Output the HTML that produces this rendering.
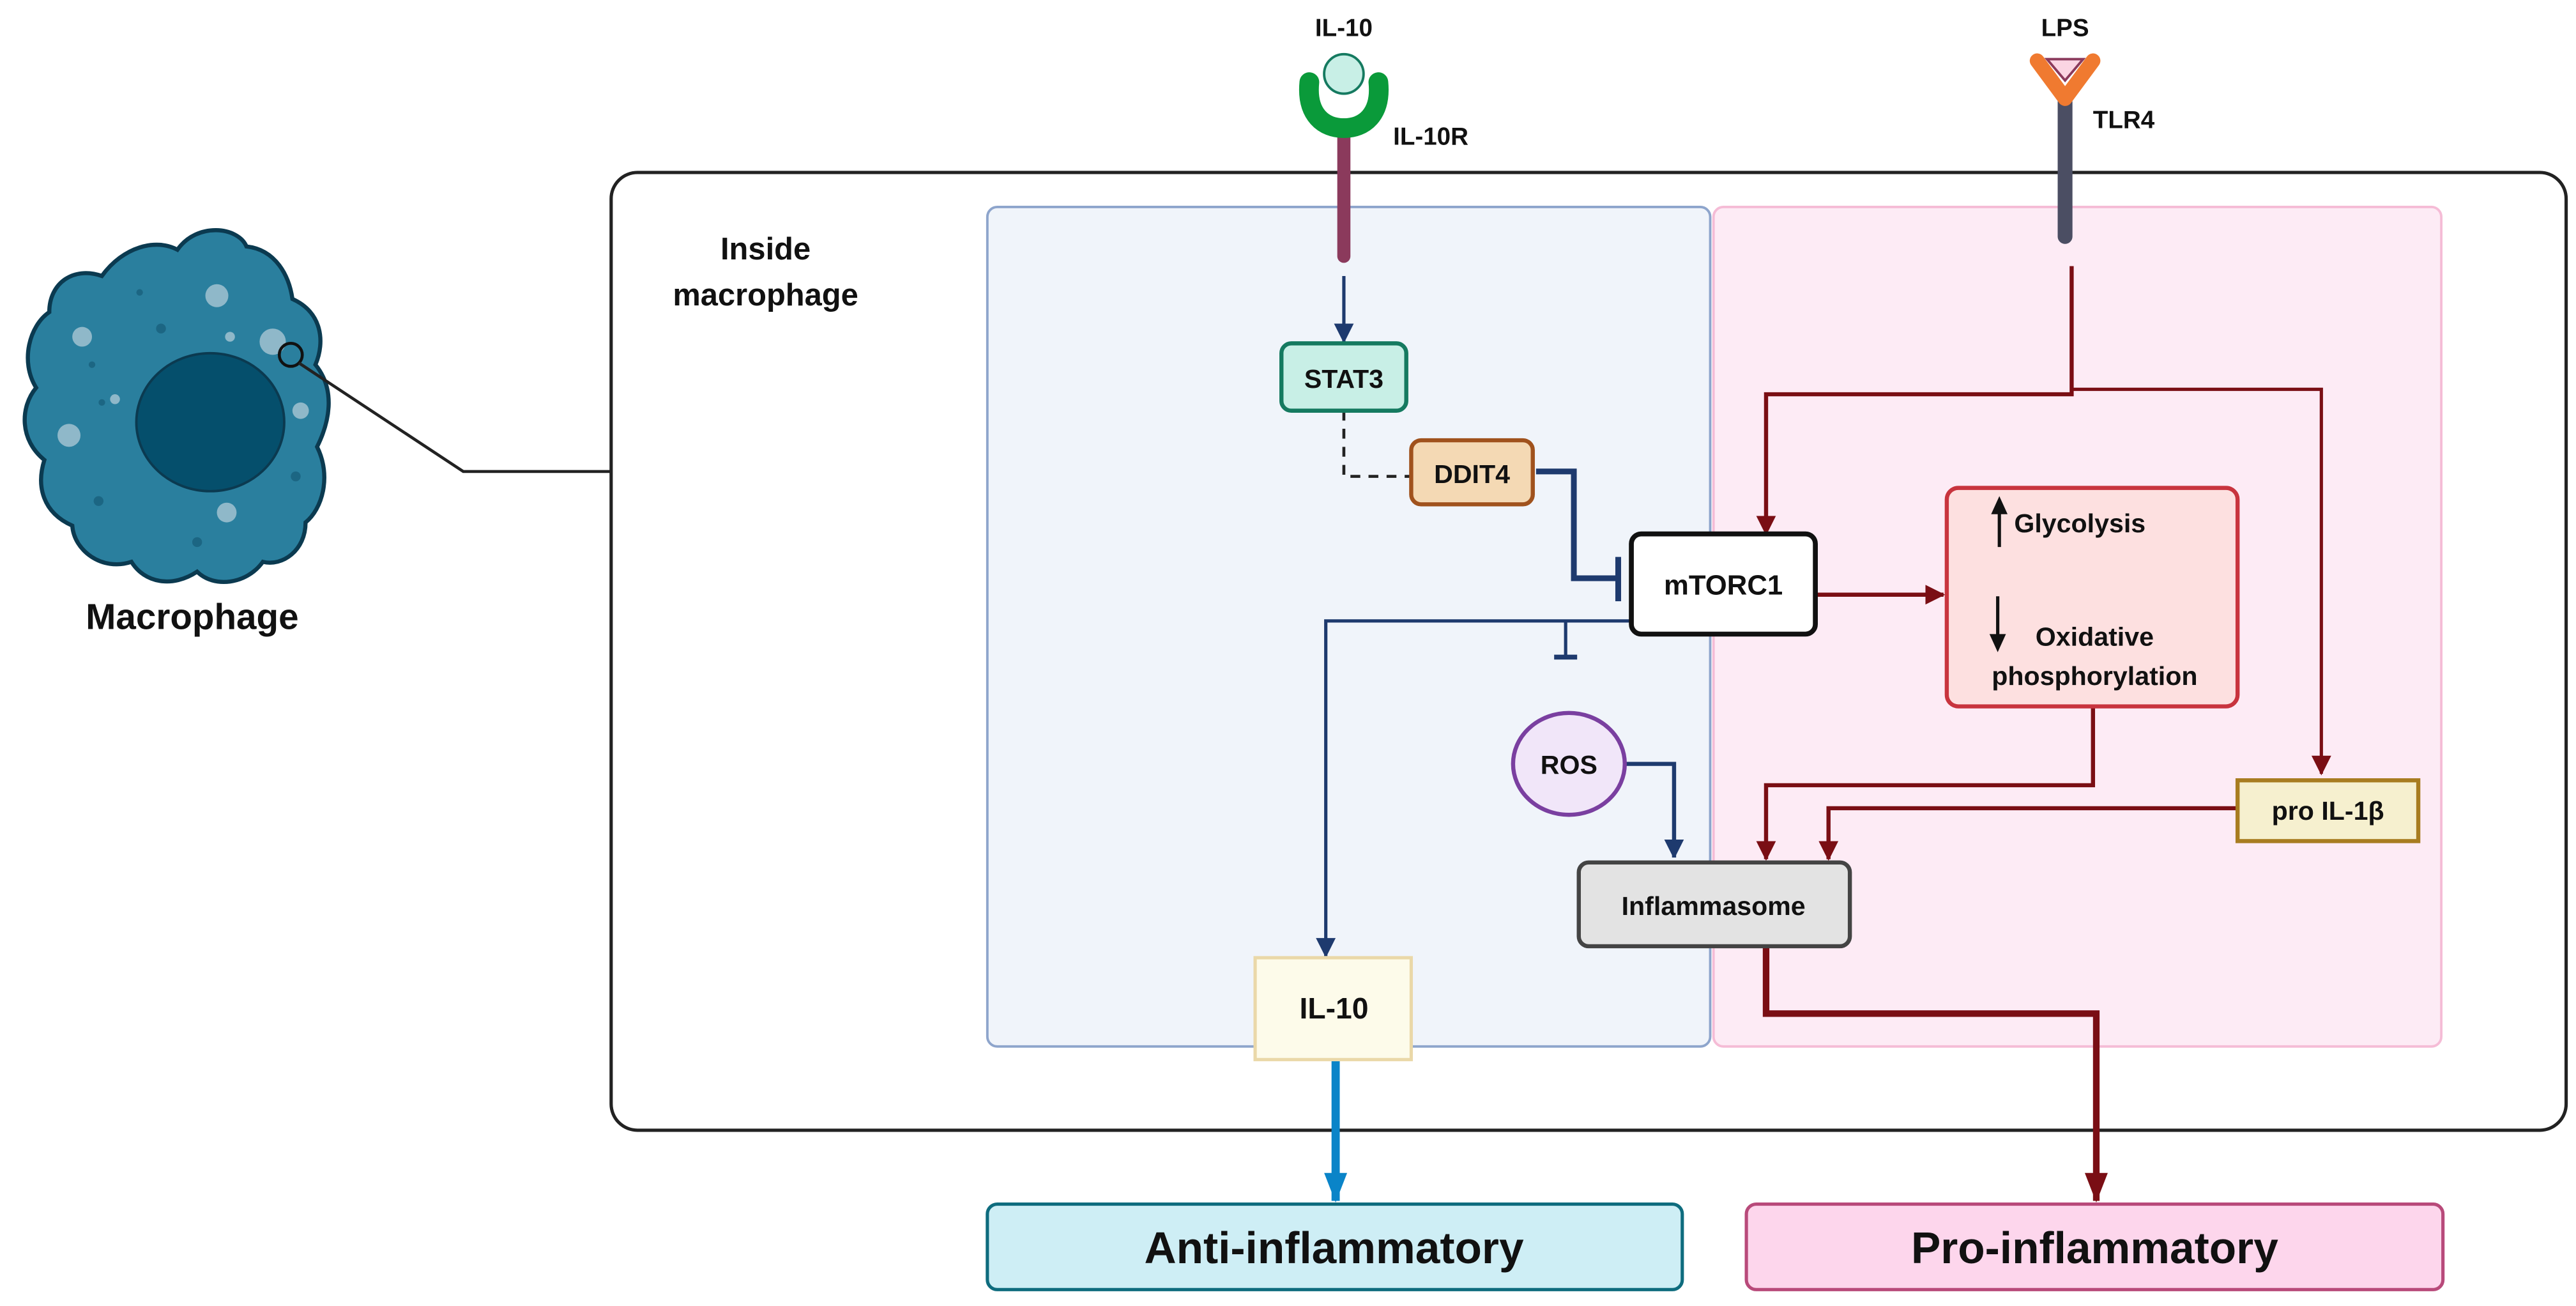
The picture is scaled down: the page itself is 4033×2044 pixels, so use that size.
<!DOCTYPE html>
<html><head><meta charset="utf-8"><style>
html,body{margin:0;padding:0;background:#fff;}
svg{display:block;}
text{font-family:"Liberation Sans",sans-serif;font-weight:bold;fill:#111;}
</style></head><body>
<svg width="4033" height="2044" viewBox="0 0 1568 795" preserveAspectRatio="none" xmlns="http://www.w3.org/2000/svg">
<defs>
<marker id="an" markerWidth="10" markerHeight="12" refX="11" refY="6" orient="auto" markerUnits="userSpaceOnUse"><path d="M0,0 L12,6 L0,12 z" fill="#1e3a6e"/></marker>
<marker id="ar" markerWidth="12" markerHeight="12" refX="11" refY="6" orient="auto" markerUnits="userSpaceOnUse"><path d="M0,0 L12,6 L0,12 z" fill="#7a0e14"/></marker>
<marker id="arb" markerWidth="18" markerHeight="14" refX="17" refY="7" orient="auto" markerUnits="userSpaceOnUse"><path d="M0,0 L18,7 L0,14 z" fill="#7a0e14"/></marker>
<marker id="ab" markerWidth="18" markerHeight="14" refX="17" refY="7" orient="auto" markerUnits="userSpaceOnUse"><path d="M0,0 L18,7 L0,14 z" fill="#0a84c8"/></marker>
</defs>

<rect x="372" y="105" width="1190" height="583" rx="16" fill="#fff" stroke="#222" stroke-width="2"/>
<rect x="601" y="126" width="440" height="511" rx="6" fill="#f0f4fa" stroke="#8ea5cc" stroke-width="1.5"/>
<rect x="1043" y="126" width="443" height="511" rx="6" fill="#fdebf5" stroke="#f5bcd6" stroke-width="1.5"/>

<!-- macrophage -->
<path d="M62,168 C75,150 95,145 108,152 C120,135 145,138 150,150 C168,152 176,168 178,182 C196,190 198,208 192,222 C205,238 200,258 193,272 C202,290 196,310 186,318 C186,335 172,345 160,342 C150,356 130,358 120,348 C105,358 88,355 80,342 C62,348 45,335 44,320 C26,312 22,296 27,280 C12,268 12,248 22,236 C12,220 18,198 30,190 C30,172 45,162 62,168 Z" fill="#2a7f9e" stroke="#0b3a50" stroke-width="2.5"/>
<ellipse cx="128" cy="257" rx="45" ry="42" fill="#054f6c" stroke="#0b3a50" stroke-width="1.5"/>
<g fill="#8fb8c9"><circle cx="132" cy="180" r="7"/><circle cx="50" cy="205" r="6"/><circle cx="166" cy="208" r="8"/><circle cx="42" cy="265" r="7"/><circle cx="183" cy="250" r="5"/><circle cx="138" cy="312" r="6"/><circle cx="70" cy="243" r="3"/><circle cx="140" cy="205" r="3"/></g>
<g fill="#1c6683"><circle cx="98" cy="200" r="3"/><circle cx="85" cy="178" r="2"/><circle cx="56" cy="222" r="2"/><circle cx="62" cy="245" r="2"/><circle cx="180" cy="290" r="3"/><circle cx="60" cy="305" r="3"/><circle cx="120" cy="330" r="3"/></g>
<circle cx="177" cy="216" r="7" fill="none" stroke="#111" stroke-width="1.8"/>
<polyline points="182,221 282,287 372,287" fill="none" stroke="#222" stroke-width="1.8"/>
<text x="117" y="383" font-size="22" text-anchor="middle">Macrophage</text>
<text x="466" y="158" font-size="19" text-anchor="middle">Inside</text>
<text x="466" y="186" font-size="19" text-anchor="middle">macrophage</text>

<!-- IL-10 receptor -->
<text x="818" y="22" font-size="15" text-anchor="middle">IL-10</text>
<line x1="818" y1="76" x2="818" y2="156" stroke="#8b3a5c" stroke-width="8" stroke-linecap="round"/>
<path d="M797,50 C795,70 806,78 818,78 C830,78 841,70 839,50" fill="none" stroke="#0a9a3a" stroke-width="12" stroke-linecap="round"/>
<circle cx="818" cy="45" r="12" fill="#c8efe6" stroke="#157a60" stroke-width="1.5"/>
<text x="848" y="88" font-size="15">IL-10R</text>

<!-- TLR4 -->
<text x="1257" y="22" font-size="15" text-anchor="middle">LPS</text>
<line x1="1257" y1="62" x2="1257" y2="144" stroke="#4b4e63" stroke-width="9" stroke-linecap="round"/>
<path d="M1240,37 L1257,60 L1274,37" fill="none" stroke="#f07a30" stroke-width="9" stroke-linejoin="round" stroke-linecap="round"/>
<path d="M1246,36 L1268,36 L1257,49 Z" fill="#fbd5e3" stroke="#8b3a5c" stroke-width="1.5"/>
<text x="1274" y="78" font-size="15">TLR4</text>

<!-- blue connectors -->
<line x1="818" y1="168" x2="818" y2="208" stroke="#1e3a6e" stroke-width="2" marker-end="url(#an)"/>
<polyline points="818,250 818,290 858,290" fill="none" stroke="#222" stroke-width="1.8" stroke-dasharray="6,5"/>
<polyline points="935,287 958,287 958,352 984,352" fill="none" stroke="#1e3a6e" stroke-width="3.5"/>
<line x1="985" y1="339" x2="985" y2="366" stroke="#1e3a6e" stroke-width="3.5"/>
<polyline points="993,378 807,378 807,582" fill="none" stroke="#1e3a6e" stroke-width="2" marker-end="url(#an)"/>
<line x1="953" y1="378" x2="953" y2="400" stroke="#1e3a6e" stroke-width="2"/>
<line x1="946" y1="400" x2="960" y2="400" stroke="#1e3a6e" stroke-width="3"/>
<polyline points="988,465 1019,465 1019,522" fill="none" stroke="#1e3a6e" stroke-width="2.5" marker-end="url(#an)"/>

<!-- red connectors -->
<polyline points="1261,162 1261,240 1075,240 1075,325" fill="none" stroke="#7a0e14" stroke-width="2.5" marker-end="url(#ar)"/>
<polyline points="1261,237 1413,237 1413,471" fill="none" stroke="#7a0e14" stroke-width="2" marker-end="url(#ar)"/>
<line x1="1106" y1="362" x2="1183" y2="362" stroke="#7a0e14" stroke-width="2.5" marker-end="url(#ar)"/>
<polyline points="1274,430 1274,478 1075,478 1075,523" fill="none" stroke="#7a0e14" stroke-width="2.5" marker-end="url(#ar)"/>
<polyline points="1362,492 1113,492 1113,523" fill="none" stroke="#7a0e14" stroke-width="2.5" marker-end="url(#ar)"/>
<polyline points="1075,577 1075,617 1276,617 1276,731" fill="none" stroke="#7a0e14" stroke-width="4" marker-end="url(#arb)"/>
<line x1="813" y1="646" x2="813" y2="731" stroke="#0a84c8" stroke-width="5" marker-end="url(#ab)"/>

<!-- nodes -->
<rect x="780" y="209" width="76" height="41" rx="6" fill="#c8efe6" stroke="#157a60" stroke-width="2.5"/>
<text x="818" y="236" font-size="16" text-anchor="middle">STAT3</text>
<rect x="859" y="268" width="74" height="39" rx="6" fill="#f4d9b4" stroke="#a0521d" stroke-width="2.5"/>
<text x="896" y="294" font-size="16" text-anchor="middle">DDIT4</text>
<rect x="993" y="325" width="112" height="61" rx="6" fill="#fff" stroke="#111" stroke-width="3"/>
<text x="1049" y="362" font-size="17" text-anchor="middle">mTORC1</text>
<rect x="1185" y="297" width="177" height="133" rx="7" fill="#fde0e0" stroke="#c8343e" stroke-width="2.5"/>
<line x1="1217" y1="333" x2="1217" y2="310" stroke="#111" stroke-width="2"/>
<path d="M1212,313 L1217,302 L1222,313 Z" fill="#111"/>
<text x="1226" y="324" font-size="16">Glycolysis</text>
<line x1="1216" y1="363" x2="1216" y2="390" stroke="#111" stroke-width="2"/>
<path d="M1211,386 L1216,397 L1221,386 Z" fill="#111"/>
<text x="1275" y="393" font-size="16" text-anchor="middle">Oxidative</text>
<text x="1275" y="417" font-size="16" text-anchor="middle">phosphorylation</text>
<ellipse cx="955" cy="465" rx="34" ry="31" fill="#f1e6f9" stroke="#7a3fa0" stroke-width="2.5"/>
<text x="955" y="471" font-size="16" text-anchor="middle">ROS</text>
<rect x="961" y="525" width="165" height="51" rx="6" fill="#e3e3e3" stroke="#444" stroke-width="2.5"/>
<text x="1043" y="557" font-size="16" text-anchor="middle">Inflammasome</text>
<rect x="1362" y="475" width="110" height="37" fill="#f6f0cf" stroke="#a87c20" stroke-width="2.5"/>
<text x="1417" y="499" font-size="16" text-anchor="middle">pro IL-1β</text>
<rect x="764" y="583" width="95" height="62" fill="#fdfbea" stroke="#ead8a8" stroke-width="2"/>
<text x="812" y="620" font-size="18" text-anchor="middle">IL-10</text>

<rect x="601" y="733" width="423" height="52" rx="6" fill="#ceeef5" stroke="#0e6c7e" stroke-width="2"/>
<text x="812" y="769" font-size="27" text-anchor="middle">Anti-inflammatory</text>
<rect x="1063" y="733" width="424" height="52" rx="6" fill="#fdd6ec" stroke="#b84a7a" stroke-width="2"/>
<text x="1275" y="769" font-size="27" text-anchor="middle">Pro-inflammatory</text>
</svg>
</body></html>
